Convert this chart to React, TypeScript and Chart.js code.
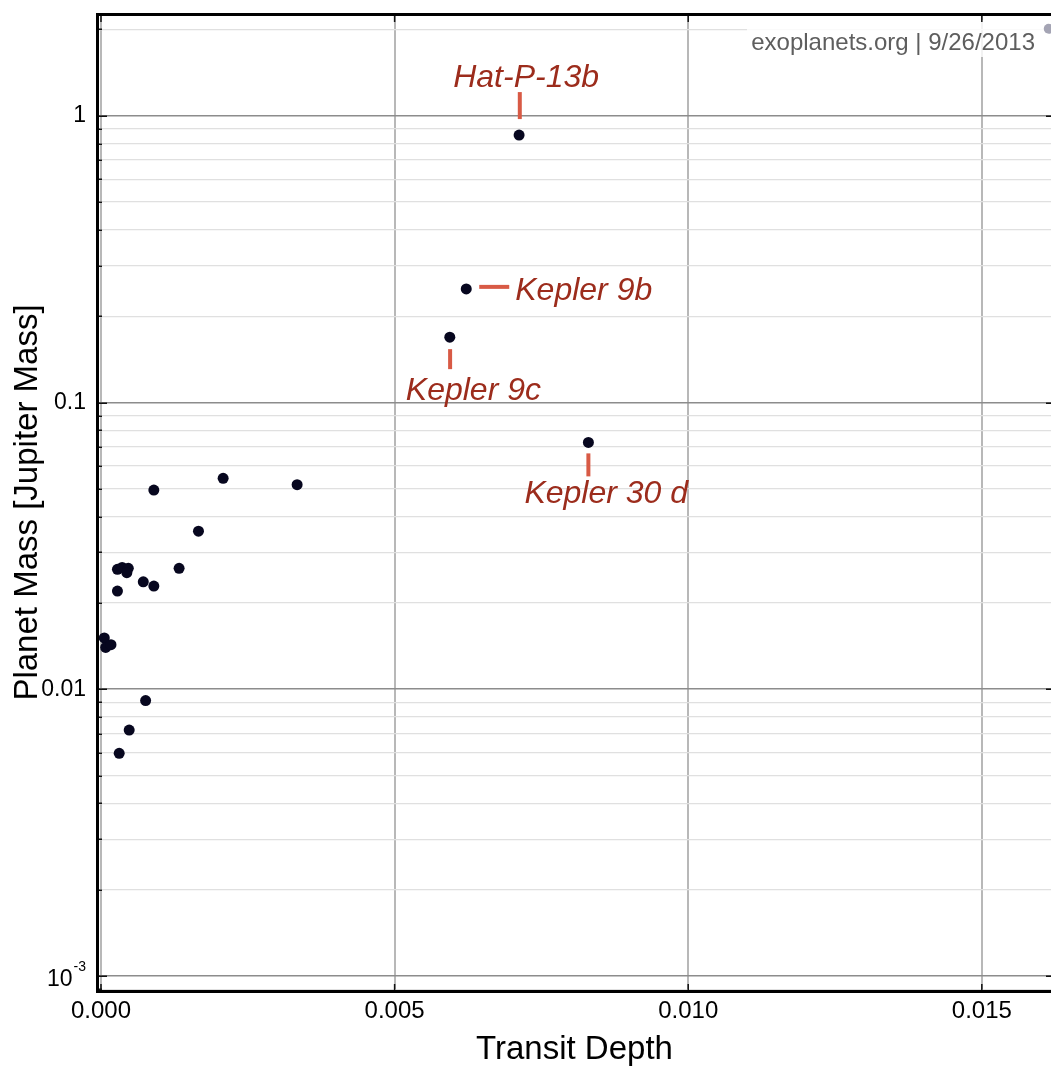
import React, { useEffect, useRef } from 'react';
import { Chart, registerables } from 'chart.js';

Chart.register(...registerables);

// ---- data ----
const transitDepth = [
  0.00712, 0.00622, 0.00594, 0.0083, 0.0009, 0.00208, 0.00334, 0.00166, 0.00028, 0.00036, 0.000465,
  0.00044, 0.00133, 0.00072, 0.0009, 0.00028, 0.000056, 0.00008, 0.00017, 0.00076, 0.00048, 0.00031,
];
const planetMass = [
  0.856, 0.249, 0.169, 0.0726, 0.0495, 0.0544, 0.0517, 0.0356, 0.0262, 0.0266, 0.0264,
  0.0255, 0.0264, 0.0237, 0.0229, 0.022, 0.0151, 0.014, 0.0143, 0.00913, 0.00721, 0.00598,
];
const labelNames = ['Hat-P-13b', 'Kepler 9b', 'Kepler 9c', 'Kepler 30 d'];
const labelIndex = [0, 1, 2, 3];
const xTickValues = [0, 0.005, 0.01, 0.015];
const xTickLabels = ['0.000', '0.005', '0.010', '0.015'];
const yTickValues = [1, 0.1, 0.01, 0.001];
const yTickLabels = ['1', '0.1', '0.01', ''];
const xRange = [-0.000051, 0.016178];
const yRange = [0.000887, 2.263];
const creditText = 'exoplanets.org | 9/26/2013';
const creditDotX = [0.01614];
const creditDotY = [2.01];

// ---- styles ----
const FONT = '"Liberation Sans", Arial, Helvetica, sans-serif';
const annotationStyle = [
  { line: [0.7, -43, 0.7, -16], text: [7, -48], align: 'center' },
  { line: [13, -2, 43, -2], text: [49, 11], align: 'left' },
  { line: [0.3, 12, 0.3, 32], text: [-44, 63], align: 'left' },
  { line: [0, 11, 0, 34], text: [-64, 61], align: 'left' },
];

const isDecade = (v: number) => Math.abs(Math.log10(v) - Math.round(Math.log10(v))) < 1e-6;
const isMinor = (v: number) => {
  const e = Math.floor(Math.log10(v) + 1e-9);
  const m = v / Math.pow(10, e);
  return Math.abs(m - Math.round(m)) < 1e-6;
};

const zeroPad = (s: any) => {
  s.paddingTop = 0;
  s.paddingBottom = 0;
  s.paddingLeft = 0;
  s.paddingRight = 0;
};

export default function App() {
  const ref = useRef<HTMLCanvasElement>(null);

  useEffect(() => {
    const canvas = ref.current!;

    const overlay = {
      id: 'overlay',
      beforeDatasetsDraw(chart: any) {
        const ctx = chart.ctx;
        ctx.save();
        ctx.fillStyle = 'rgba(255,255,255,0.82)';
        ctx.fillRect(747, 20, 1051 - 747, 37);
        ctx.font = `24px ${FONT}`;
        ctx.fillStyle = '#5e5e5e';
        ctx.textAlign = 'right';
        ctx.textBaseline = 'alphabetic';
        ctx.fillText(creditText, 1035, 50);
        ctx.restore();
      },
      afterDatasetsDraw(chart: any) {
        const ctx = chart.ctx;
        const xs = chart.scales.x;
        const ys = chart.scales.y;
        ctx.save();
        labelNames.forEach((name, i) => {
          const idx = labelIndex[i];
          const px = xs.getPixelForValue(transitDepth[idx]);
          const py = ys.getPixelForValue(planetMass[idx]);
          const st = annotationStyle[i];
          ctx.strokeStyle = '#d85a45';
          ctx.lineWidth = 4;
          ctx.beginPath();
          ctx.moveTo(px + st.line[0], py + st.line[1]);
          ctx.lineTo(px + st.line[2], py + st.line[3]);
          ctx.stroke();
          ctx.font = `italic 32px ${FONT}`;
          ctx.fillStyle = '#9c2c1c';
          ctx.textAlign = st.align as CanvasTextAlign;
          ctx.textBaseline = 'alphabetic';
          ctx.fillText(name, px + st.text[0], py + st.text[1]);
        });
        ctx.restore();
      },
      afterDraw(chart: any) {
        const ctx = chart.ctx;
        const { left, right, top, bottom } = chart.chartArea;
        const xs = chart.scales.x;
        const ys = chart.scales.y;
        ctx.save();
        // inward ticks
        ctx.strokeStyle = '#111';
        ctx.lineWidth = 1.5;
        ctx.beginPath();
        ys.ticks.forEach((t: any) => {
          const v = t.value;
          if (!isMinor(v)) return;
          const py = Math.round(ys.getPixelForValue(v)) + 0.25;
          const len = isDecade(v) ? 9 : 4;
          ctx.moveTo(left - 1, py);
          ctx.lineTo(left + len, py);
          if (isDecade(v)) {
            ctx.moveTo(right, py);
            ctx.lineTo(right - 5, py);
          }
        });
        xTickValues.forEach((v) => {
          const px = xs.getPixelForValue(v);
          ctx.moveTo(px, bottom);
          ctx.lineTo(px, bottom - 7);
          ctx.moveTo(px, top);
          ctx.lineTo(px, top + 8);
        });
        ctx.stroke();
        // frame
        ctx.strokeStyle = '#000';
        ctx.lineWidth = 3;
        ctx.beginPath();
        ctx.moveTo(right + 2, top + 0.5);
        ctx.lineTo(left - 0.5, top + 0.5);
        ctx.lineTo(left - 0.5, bottom + 0.5);
        ctx.lineTo(right + 2, bottom + 0.5);
        ctx.stroke();
        // 10^-3 label
        const py = ys.getPixelForValue(0.001);
        ctx.fillStyle = '#000';
        ctx.textAlign = 'right';
        ctx.textBaseline = 'middle';
        ctx.font = `14px ${FONT}`;
        const supW = ctx.measureText('-3').width;
        ctx.fillText('-3', 86, py - 9);
        ctx.font = `23px ${FONT}`;
        ctx.fillText('10', 86 - supW - 1, py + 4);
        ctx.restore();
      },
    };

    const chart = new Chart(canvas, {
      type: 'scatter',
      data: {
        datasets: [
          {
            data: transitDepth.map((x, i) => ({ x, y: planetMass[i] })),
            backgroundColor: '#07071f',
            borderWidth: 0,
            pointRadius: 5.5,
            pointHoverRadius: 5.5,
          },
          {
            data: creditDotX.map((x, i) => ({ x, y: creditDotY[i] })),
            backgroundColor: '#a4a4b4',
            borderWidth: 0,
            pointRadius: 5,
            pointHoverRadius: 5,
            clip: false as any,
          },
        ],
      },
      options: {
        responsive: false,
        animation: false,
        events: [],
        layout: { autoPadding: false, padding: { top: 14, right: 0, left: 0, bottom: 0 } },
        plugins: { legend: { display: false }, tooltip: { enabled: false } },
        scales: {
          x: {
            type: 'linear',
            position: 'bottom',
            bounds: 'data',
            min: xRange[0],
            max: xRange[1],
            afterFit(s: any) {
              s.height = 75;
              zeroPad(s);
            },
            afterBuildTicks(s: any) {
              s.ticks = xTickValues.map((v) => ({ value: v }));
            },
            ticks: {
              autoSkip: false,
              maxRotation: 0,
              padding: 6,
              color: '#000',
              font: { family: FONT, size: 24 },
              callback: (v: any) => {
                const i = xTickValues.findIndex((t) => Math.abs(t - Number(v)) < 1e-9);
                return i >= 0 ? xTickLabels[i] : '';
              },
            },
            grid: { color: '#b8b8b8', lineWidth: 2, drawTicks: false },
            border: { display: false },
            title: {
              display: true,
              text: 'Transit Depth',
              color: '#000',
              font: { family: FONT, size: 33, lineHeight: 1 },
              padding: { top: 0, bottom: 0 },
            },
          },
          y: {
            type: 'logarithmic',
            bounds: 'data',
            min: yRange[0],
            max: yRange[1],
            afterFit(s: any) {
              s.width = 98;
              zeroPad(s);
            },
            afterBuildTicks(s: any) {
              const ticks: any[] = [];
              for (let e = -4; e <= 1; e++) {
                for (let m = 1; m <= 9; m++) {
                  const v = m * Math.pow(10, e);
                  if (v >= s.min && v <= s.max) ticks.push({ value: v, major: m === 1 });
                }
              }
              s.ticks = ticks;
            },
            ticks: {
              autoSkip: false,
              padding: 12,
              color: '#000',
              font: { family: FONT, size: 23 },
              callback: (v: any) => {
                const i = yTickValues.findIndex((t) => Math.abs(t - Number(v)) < 1e-12);
                return i >= 0 ? yTickLabels[i] : '';
              },
            },
            grid: {
              drawTicks: false,
              color: (c: any) => {
                const v = c.tick ? c.tick.value : 0;
                if (!v) return 'rgba(0,0,0,0)';
                return isDecade(v) ? '#8c8c8c' : '#e0e0e0';
              },
              lineWidth: (c: any) => {
                const v = c.tick ? c.tick.value : 0;
                return v && isDecade(v) ? 1.6 : 1.3;
              },
            },
            border: { display: false },
            title: {
              display: true,
              text: 'Planet Mass [Jupiter Mass]',
              color: '#000',
              font: { family: FONT, size: 33, lineHeight: 1 },
              padding: { top: 11, bottom: 0 },
            },
          },
        },
      } as any,
      plugins: [overlay],
    });

    return () => chart.destroy();
  }, []);

  return (
    <div style={{ position: 'absolute', left: 0, top: 0, width: 1051, height: 1066 }}>
      <canvas ref={ref} width={1051} height={1066} style={{ display: 'block' }} />
    </div>
  );
}
